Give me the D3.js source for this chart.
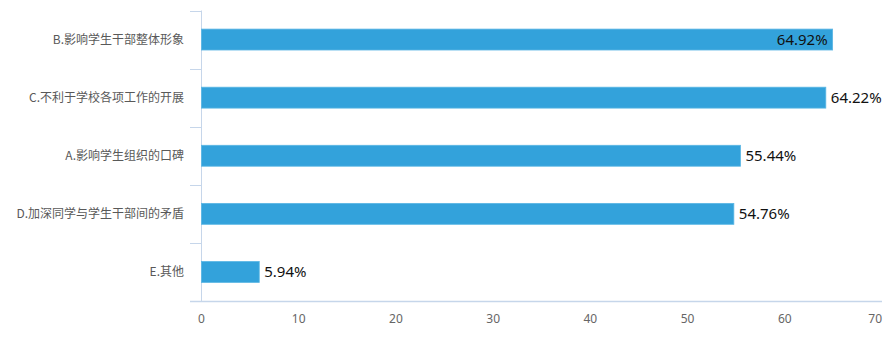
<!DOCTYPE html>
<html>
<head>
<meta charset="utf-8">
<script src="https://cdn.jsdelivr.net/npm/d3@7"></script>
<style>
  html, body { margin: 0; padding: 0; background: #fff; }
  svg { display: block; }
</style>
</head>
<body>
<svg id="chart" width="894" height="344"></svg>
<script>
// Survey results: share of respondents choosing each option (%)
const categories = [
  "B.影响学生干部整体形象",
  "C.不利于学校各项工作的开展",
  "A.影响学生组织的口碑",
  "D.加深同学与学生干部间的矛盾",
  "E.其他"
];
const values = [64.92, 64.22, 55.44, 54.76, 5.94];
const xTicks = [0, 10, 20, 30, 40, 50, 60, 70];

const svg = d3.select("#chart");
const plotLeft = 201.5, plotRight = 882, plotTop = 10.5, plotBottom = 301;
const axisColor = "#c6d6ea";
const barColor = "#33a2db";

const x = d3.scaleLinear().domain([0, 70]).range([plotLeft, plotRight]);
const y = d3.scaleBand().domain(categories).range([plotTop, plotBottom]).paddingInner(0.64).paddingOuter(0.32);
const yOuter = d3.scaleBand().domain(categories).range([plotTop, plotBottom]);

// category axis: vertical line with short ticks at band boundaries
svg.append("line")
  .attr("x1", plotLeft).attr("x2", plotLeft).attr("y1", plotTop).attr("y2", plotBottom)
  .attr("stroke", axisColor).attr("stroke-width", 1);
const bounds = categories.map(c => yOuter(c)).concat([plotBottom]);
svg.selectAll("line.ytick").data(bounds).join("line")
  .attr("class", "ytick")
  .attr("x1", 190).attr("x2", plotLeft)
  .attr("y1", d => Math.round(d) + 0.5).attr("y2", d => Math.round(d) + 0.5)
  .attr("stroke", axisColor).attr("stroke-width", 1);

// value axis baseline
svg.append("line")
  .attr("x1", 190).attr("x2", plotRight).attr("y1", plotBottom + 0.5).attr("y2", plotBottom + 0.5)
  .attr("stroke", axisColor).attr("stroke-width", 1.5);

// value tick labels
svg.selectAll("text.xlab").data(xTicks).join("text")
  .attr("class", "xlab")
  .attr("x", (d, i) => i === xTicks.length - 1 ? plotRight : x(d))
  .attr("y", 323)
  .attr("text-anchor", (d, i) => i === xTicks.length - 1 ? "end" : "middle")
  .attr("font-family", "'Noto Sans', 'Open Sans', sans-serif")
  .attr("font-size", 12)
  .attr("fill", "#666")
  .text(d => d);

// category labels
svg.selectAll("text.ylab").data(categories).join("text")
  .attr("class", "ylab")
  .attr("x", 184)
  .attr("y", d => yOuter(d) + yOuter.bandwidth() / 2)
  .attr("dy", "0.35em")
  .attr("text-anchor", "end")
  .attr("font-family", "'Noto Sans CJK SC', sans-serif")
  .attr("font-size", 12)
  .attr("fill", "#595959")
  .text(d => d);

// bars
svg.selectAll("rect.bar").data(values).join("rect")
  .attr("class", "bar")
  .attr("x", plotLeft)
  .attr("y", (d, i) => y(categories[i]))
  .attr("width", d => x(d) - plotLeft)
  .attr("height", y.bandwidth())
  .attr("fill", barColor)
  .attr("stroke", "#5ab6e4")
  .attr("stroke-width", 0.8);

// value labels: outside the bar end, or inside when it would pass the plot edge
const labels = svg.selectAll("text.val").data(values).join("text")
  .attr("class", "val")
  .attr("y", (d, i) => y(categories[i]) + y.bandwidth() / 2)
  .attr("dy", "0.36em")
  .attr("font-family", "'Noto Sans', sans-serif")
  .attr("font-size", 15)
  .attr("fill", "#111")
  .text(d => d.toFixed(2) + "%");
labels.each(function(d) {
  const w = this.getComputedTextLength();
  const end = x(d);
  const t = d3.select(this);
  if (end + 5 + w > plotRight) {
    t.attr("x", end - 5).attr("text-anchor", "end");
  } else {
    t.attr("x", end + 5).attr("text-anchor", "start");
  }
});
</script>
</body>
</html>
